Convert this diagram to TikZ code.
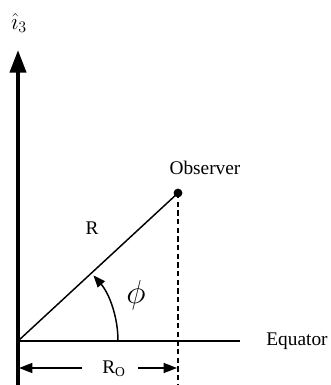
\documentclass[tikz,border=0pt]{standalone}
\usepackage{fontspec}
\setmainfont{Liberation Serif}
\usetikzlibrary{arrows.meta}
\begin{document}
\begin{tikzpicture}[x=0.75pt,y=0.75pt,
  thin line/.style={line width=1.1pt},
  lbl/.style={inner sep=0pt,font=\fontsize{14.5}{16}\selectfont}]
\useasboundingbox (0,0) rectangle (331,385);
\coordinate (O) at (18,44);
\coordinate (bot) at (18,0);
\coordinate (top) at (18,335);
\coordinate (eqend) at (240,44);
\coordinate (obs) at (178,192);
\coordinate (dashbot) at (178,0);
\coordinate (arcstart) at (118,44);
\coordinate (rol) at (19,17);
\coordinate (rolstart) at (82,17);
\coordinate (rorstart) at (138,17);
\coordinate (ror) at (177,17);
% axis
\draw[line width=3pt,-{Triangle[length=17pt,width=12pt]}] (bot) -- (top);
\draw[thin line] (O) -- (eqend);
\draw[thin line] (O) -- (obs);
\draw[line width=0.8pt,dash pattern=on 4pt off 2.5pt] (obs) -- (dashbot);
\fill (obs) circle (3.3pt);
\draw[thin line,-{Triangle[length=9pt,width=7pt]}] (arcstart) arc[start angle=0,end angle=41,radius=75pt];
\draw[thin line,-{Triangle[length=10pt,width=7.5pt]}] (rolstart) -- (rol);
\draw[thin line,-{Triangle[length=10pt,width=7.5pt]}] (rorstart) -- (ror);
% labels
\node[lbl] (eq) at (297,44) {Equator};
\node[lbl] (obslbl) at (205,217) {Observer};
\node[lbl] (Rl) at (92,157) {R};
\node[lbl] (RO) at (114,16) {R$_{\mathrm{O}}$};
\node[inner sep=0pt] (phi) at (136,90) {\fontsize{33}{35}\selectfont$\phi$};
\node[inner sep=0pt] (i3) at (19,362) {\fontsize{18}{20}\selectfont$\hat{\imath}_3$};
\end{tikzpicture}
\end{document}
